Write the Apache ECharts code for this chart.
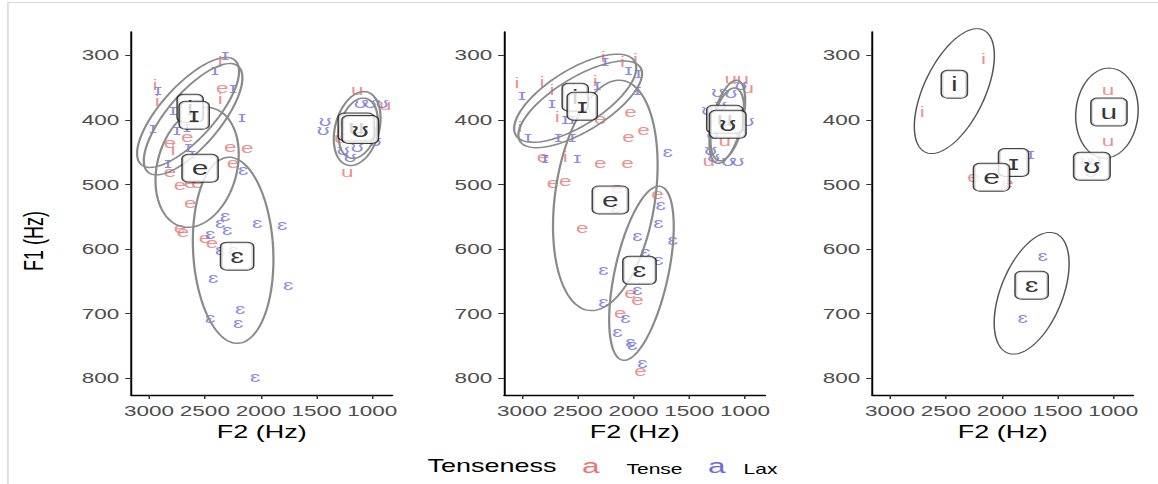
<!DOCTYPE html>
<html><head><meta charset="utf-8">
<script src="https://cdn.jsdelivr.net/npm/echarts@6/dist/echarts.min.js"></script>
<style>
html,body{margin:0;padding:0;background:#fff;overflow:hidden;}
#wrap{width:1158px;height:484px;overflow:hidden;position:relative;background:#fff;}
#chart{width:772px;height:484px;transform:scaleX(1.5);transform-origin:0 0;}
</style></head><body><div id="wrap"><div id="chart"></div></div>
<script>
// ---- data (F2 Hz, F1 Hz) ----
const F2_TICKS = [3000, 2500, 2000, 1500, 1000];
const F1_TICKS = [300, 400, 500, 600, 700, 800];
const LEGEND_NAMES = ['Tense', 'Lax'];

// Panel 1
const P1_i = [[2363,311],[2363,367],[2946,346],[2928,370],[2785,447]];
const P1_e = [[2345,350],[2659,427],[2812,436],[2273,442],[2121,444],[2247,466],[2812,481],[2722,501],[2632,498],[2569,498],[2632,528],[2722,568],[2695,574],[2435,591],[2498,583]];
const P1_u = [[1134,354],[883,377],[1224,481],[1179,408],[1287,428]];
const P1_I = [[2318,300],[2408,323],[2247,350],[2166,396],[2919,354],[2964,413],[2785,385],[2569,373],[2560,388],[2749,416],[2659,411],[2650,442],[2614,452],[2830,466]];
const P1_E = [[2157,478],[2318,548],[2363,559],[2300,571],[2453,576],[2363,602],[2247,602],[2031,559],[1807,563],[2426,644],[1753,656],[2184,692],[2202,715],[2453,706],[2049,798]];
const P1_U = [[1107,373],[1018,373],[910,373],[1421,401],[1439,416],[1197,398],[1000,416],[973,432],[1260,447],[1197,458],[1134,442],[1089,401],[1242,424]];
const P1_labels = [['i',2632,382],['ɪ',2596,393],['e',2543,475],['ɛ',2211,611],['u',1143,411],['ʊ',1107,415]];
const P1_ellipses = [[2229,308,3072,469,0.38],[2202,317,3009,481,0.38],[2426,382,2713,565,0.65],[2291,458,2202,746,0.43],[1045,357,1224,470,0.58],[1053,367,1197,459,0.6]];

// Panel 2
const P2_i = [[3045,343],[2820,342],[2730,354],[2271,303],[2100,311],[1983,305],[2343,339],[3018,411],[2685,396],[2613,458]];
const P2_e = [[2298,398],[2028,388],[2046,427],[1911,416],[2811,458],[2298,466],[2055,467],[2721,497],[2613,494],[2145,506],[1785,514],[2460,568],[2028,668],[1965,679],[2118,699],[1938,788]];
const P2_u = [[1128,336],[1020,336],[975,350],[1326,463],[1182,432],[1038,401]];
const P2_I = [[3000,362],[2253,308],[2046,323],[1956,328],[1965,354],[2730,373],[2613,398],[2550,398],[2946,427],[2676,427],[2550,427],[2793,459],[2505,459],[2325,346]];
const P2_E = [[1695,450],[2163,537],[1758,532],[1776,560],[1650,586],[1965,579],[1893,605],[1776,617],[2271,633],[1965,664],[2271,682],[2073,707],[2145,729],[2028,744],[2010,749],[1920,777]];
const P2_U = [[1038,346],[1245,357],[1128,359],[1335,385],[975,401],[1245,401],[1290,421],[1038,419],[1308,447],[1281,458],[1155,463],[1065,463],[1218,377]];
const P2_labels = [['i',2523,365],['ɪ',2460,379],['e',2208,524],['ɛ',1947,633],['u',1182,399],['ʊ',1155,407]];
const P2_ellipses = [[1992,309,3054,424,0.4],[1938,319,3018,433,0.38],[2100,339,2406,695,0.43],[1758,503,2100,772,0.3],[1065,339,1254,467,0.35],[1083,351,1236,463,0.4]];

// Panel 3
const P3_i = [[2163,305],[2712,388]];
const P3_e = [[2253,489],[1947,497]];
const P3_u = [[1047,354],[1047,432]];
const P3_I = [[1740,452]];
const P3_E = [[1632,610],[1812,707]];
const P3_U = [[1200,481],[1245,463],[1155,463]];
const P3_labels = [['i',2424,345],['u',1038,388],['ɪ',1893,466],['e',2091,489],['ʊ',1191,472],['ɛ',1731,656]];
const P3_ellipses = [[2163,261,2685,450,0.45],[1020,320,1092,459,0.69],[1515,576,1947,761,0.48]];

// ---- presentation ----
const S = 1.5; // horizontal stretch of the reference picture
const FONT = "'Liberation Sans', Arial, 'DejaVu Sans', sans-serif";
const TENSE_COLOR = '#E97575', LAX_COLOR = '#6C6CD8';
const GRID_LEFTS = [87.5, 336.1, 581.5];

const panels = [
  {tense:[['i',P1_i],['e',P1_e],['u',P1_u]], lax:[['ɪ',P1_I],['ɛ',P1_E],['ʊ',P1_U]], labels:P1_labels, ell:P1_ellipses, ellColor:'#8a8a8a', ellWidth:1.5},
  {tense:[['i',P2_i],['e',P2_e],['u',P2_u]], lax:[['ɪ',P2_I],['ɛ',P2_E],['ʊ',P2_U]], labels:P2_labels, ell:P2_ellipses, ellColor:'#8a8a8a', ellWidth:1.5},
  {tense:[['i',P3_i],['e',P3_e],['u',P3_u]], lax:[['ɪ',P3_I],['ɛ',P3_E],['ʊ',P3_U]], labels:P3_labels, ell:P3_ellipses, ellColor:'#555', ellWidth:1}
];

function glyphPoints(groups){
  const out = [];
  groups.forEach(([g, arr]) => arr.forEach(p => out.push([p[0], p[1], g])));
  return out;
}

const grids = [], xAxes = [], yAxes = [], series = [];
panels.forEach((pn, k) => {
  grids.push({left: GRID_LEFTS[k], top: 32, width: 174, height: 363, containLabel: false});
  xAxes.push({
    gridIndex: k, type: 'value', inverse: true, min: 820, max: 3160,
    name: 'F2 (Hz)', nameLocation: 'middle', nameGap: 26,
    nameTextStyle: {fontSize: 18, color: '#000', fontFamily: FONT},
    axisLine: {show: true, onZero: false, lineStyle: {color: '#000', width: 1.3}},
    axisTick: {show: true, length: 4, customValues: F2_TICKS, lineStyle: {color: '#333', width: 1}},
    axisLabel: {show: true, customValues: F2_TICKS, interval: 0, hideOverlap: false, formatter: v => String(v),
      color: '#4D4D4D', fontSize: 15, margin: 8, fontFamily: FONT},
    splitLine: {show: false}
  });
  yAxes.push({
    gridIndex: k, type: 'value', inverse: true, min: 264, max: 826,
    name: k === 0 ? 'F1 (Hz)' : '', nameLocation: 'middle', nameRotate: 90, nameGap: 56,
    nameTextStyle: {fontSize: 18, color: '#000', fontFamily: FONT, padding: [0, 55, 0, 0]},
    axisLine: {show: true, onZero: false, lineStyle: {color: '#000', width: 1.3}},
    axisTick: {show: true, length: 4, customValues: F1_TICKS, lineStyle: {color: '#333', width: 1}},
    axisLabel: {show: true, customValues: F1_TICKS, interval: 0, formatter: v => String(v),
      color: '#4D4D4D', fontSize: 15, margin: 8, fontFamily: FONT},
    splitLine: {show: false}
  });
  [['Tense', pn.tense, TENSE_COLOR], ['Lax', pn.lax, LAX_COLOR]].forEach(([nm, groups, col]) => {
    series.push({
      type: 'scatter', name: nm, xAxisIndex: k, yAxisIndex: k, z: 2, silent: true,
      data: glyphPoints(groups), symbolSize: 1, itemStyle: {color: 'rgba(0,0,0,0)'},
      label: {show: true, position: 'inside', formatter: p => p.data[2], color: col, fontSize: 15, fontFamily: FONT},
      emphasis: {disabled: true}
    });
  });
  series.push({
    type: 'custom', name: 'ellipse' + k, xAxisIndex: k, yAxisIndex: k, z: 3, silent: true,
    data: pn.ell, encode: {x: [0, 2], y: [1, 3]},
    renderItem: (params, api) => {
      const a = api.coord([api.value(0), api.value(1)]);
      const b = api.coord([api.value(2), api.value(3)]);
      const ratio = api.value(4);
      const ax = a[0] * S, ay = a[1], bx = b[0] * S, by = b[1];
      const cx = (ax + bx) / 2, cy = (ay + by) / 2;
      const R = Math.hypot(bx - ax, by - ay) / 2, r = R * ratio, th = Math.atan2(by - ay, bx - ax);
      const pts = [];
      for (let i = 0; i < 120; i++) {
        const t = i / 120 * 2 * Math.PI, x = R * Math.cos(t), y = r * Math.sin(t);
        pts.push([(cx + x * Math.cos(th) - y * Math.sin(th)) / S, cy + x * Math.sin(th) + y * Math.cos(th)]);
      }
      return {type: 'polygon', shape: {points: pts}, style: {fill: 'none', stroke: pn.ellColor, lineWidth: pn.ellWidth}};
    }
  });
  series.push({
    type: 'scatter', name: 'labels' + k, xAxisIndex: k, yAxisIndex: k, z: 10, silent: true,
    data: pn.labels.map(l => [l[1], l[2], l[0]]), symbolSize: 1, itemStyle: {color: 'rgba(0,0,0,0)'},
    label: {show: true, position: 'inside', formatter: p => p.data[2], color: '#000', fontSize: 20, lineHeight: 20,
      fontFamily: FONT, backgroundColor: '#fff', borderColor: '#111', borderWidth: 1, borderRadius: 4, padding: [4, 6, 3, 6]},
    emphasis: {disabled: true}
  });
});

const chart = echarts.init(document.getElementById('chart'), null, {renderer: 'svg'});
chart.setOption({
  backgroundColor: '#fff',
  animation: false,
  title: {text: 'Tenseness', left: 280, top: 452, textStyle: {fontSize: 18, fontWeight: 'normal', color: '#000', fontFamily: FONT}},
  legend: {
    left: 378, top: 450, icon: 'none', itemWidth: 0, itemHeight: 0, itemGap: 12, selectedMode: false,
    data: LEGEND_NAMES,
    formatter: n => '{k' + n + '|a}{t|' + n + '}',
    textStyle: {rich: {
      kTense: {color: TENSE_COLOR, fontSize: 21, lineHeight: 26, verticalAlign: 'middle', padding: [0, 18, 4, 0], fontFamily: FONT},
      kLax: {color: LAX_COLOR, fontSize: 21, lineHeight: 26, verticalAlign: 'middle', padding: [0, 12, 4, 0], fontFamily: FONT},
      t: {fontSize: 14, color: '#000', lineHeight: 26, verticalAlign: 'middle', padding: [4, 0, 0, 0], fontFamily: FONT}
    }}
  },
  graphic: [{type: 'rect', silent: true, shape: {x: 5.3, y: 2.5, width: 800, height: 600}, style: {fill: 'none', stroke: '#d8d8d8', lineWidth: 1}}],
  grid: grids, xAxis: xAxes, yAxis: yAxes, series: series
});
</script></body></html>
